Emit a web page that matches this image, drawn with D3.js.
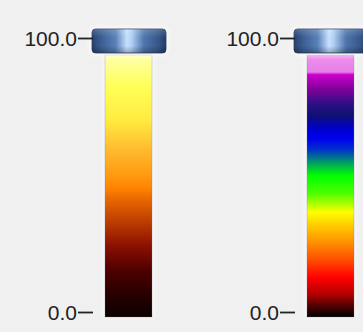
<!DOCTYPE html>
<html>
<head>
<meta charset="utf-8">
<script src="https://cdn.jsdelivr.net/npm/d3@7"></script>
<style>
  html, body { margin: 0; padding: 0; background: #f0f0f0; }
  svg { display: block; }
  .tick text { font-family: "Liberation Sans", Arial, sans-serif; font-size: 21px; fill: #222; }
</style>
</head>
<body>
<script>
// ---- data ----
const domainValues = [0, 100];
const tickValues = [0, 100];
const panelNames = ["hot", "rainbow"];

const hotStops = [0, 8, 18, 27, 37, 45, 49, 54, 64, 75, 88, 96, 100];
const hotColors = ["#0c0000", "#250000", "#500000", "#8a1000", "#c04000", "#e86800",
                   "#ff8200", "#ff9a10", "#ffbb30", "#ffeb40", "#ffff58", "#ffff90", "#ffffb0"];

const rainbowStops = [0, 5, 8.5, 15, 22, 29.5, 35, 40, 43, 47, 54, 58, 61, 64, 68, 72, 77, 81, 87, 92.5, 93.5, 100];
const rainbowColors = ["#000000", "#600000", "#b00000", "#ff0000", "#ff5000", "#ff9a00", "#ffcc00",
                       "#ffff00", "#b0ff00", "#50ff00", "#00ff00", "#00b050", "#007090", "#0030cc",
                       "#0000ee", "#0000cc", "#101072", "#281085", "#800099", "#cc00cc", "#e680e6", "#f090f0"];

const panels = [
  { name: panelNames[0], stops: hotStops, colors: hotColors },
  { name: panelNames[1], stops: rainbowStops, colors: rainbowColors }
];

// ---- layout ----
const W = 363, H = 332;
const panelX = d3.scaleOrdinal().domain(panelNames).range([0, 202]);
const yAxisScale = d3.scaleLinear().domain(domainValues).range([312, 38]);
const yBar = d3.scaleLinear().domain(domainValues).range([317, 55]);
const axisX = 93, barX = 105, barW = 47;

const svg = d3.select("body").append("svg").attr("width", W).attr("height", H);
svg.append("rect").attr("width", W).attr("height", H).attr("fill", "#f0f0f0");
const defs = svg.append("defs");

// cap gradients
const capGrad = defs.append("linearGradient").attr("id", "capH").attr("x1", 0).attr("x2", 1).attr("y1", 0).attr("y2", 0);
[[0, "#27416e"], [0.12, "#3b5d92"], [0.32, "#5a82b8"], [0.47, "#c6e0ff"], [0.53, "#b3d2f5"], [0.7, "#4f76ac"], [0.9, "#36568a"], [1, "#243c68"]]
  .forEach(([o, c]) => capGrad.append("stop").attr("offset", o).attr("stop-color", c));
const capV = defs.append("linearGradient").attr("id", "capV").attr("x1", 0).attr("x2", 0).attr("y1", 0).attr("y2", 1);
[[0, "#ffffff", 0.18], [0.35, "#ffffff", 0.0], [0.7, "#000000", 0.0], [1, "#000000", 0.25]]
  .forEach(([o, c, a]) => capV.append("stop").attr("offset", o).attr("stop-color", c).attr("stop-opacity", a));
const blur = defs.append("filter").attr("id", "glow").attr("x", "-30%").attr("y", "-30%").attr("width", "160%").attr("height", "160%");
blur.append("feGaussianBlur").attr("stdDeviation", 2.5);

panels.forEach((p, i) => {
  const g = svg.append("g").attr("transform", `translate(${panelX(p.name)},0)`);

  const grad = defs.append("linearGradient").attr("id", "grad" + i)
    .attr("gradientUnits", "userSpaceOnUse")
    .attr("x1", 0).attr("x2", 0).attr("y1", yBar(domainValues[0])).attr("y2", yBar(domainValues[1]));
  grad.selectAll("stop").data(p.stops).join("stop")
    .attr("offset", d => (d - domainValues[0]) / (domainValues[1] - domainValues[0]))
    .attr("stop-color", (d, j) => p.colors[j]);

  // soft glow behind bar
  g.append("rect").attr("x", barX - 1.5).attr("y", yBar(100)).attr("width", barW + 3)
    .attr("height", yBar(0) - yBar(100)).attr("fill", "#ffffff").attr("opacity", 0.7).attr("filter", "url(#glow)");

  // colour bar
  g.append("rect").attr("x", barX).attr("y", yBar(100)).attr("width", barW)
    .attr("height", yBar(0) - yBar(100)).attr("fill", `url(#grad${i})`)
    .attr("stroke", "#777").attr("stroke-opacity", 0.35).attr("stroke-width", 0.8);

  // cap
  const capX = barX - 13, capW = barW + 27, capY = yBar(100) - 26, capH = 24;
  g.append("rect").attr("x", capX - 2).attr("y", capY - 2).attr("width", capW + 4).attr("height", capH + 4)
    .attr("rx", 5).attr("fill", "#ffffff").attr("opacity", 0.8).attr("filter", "url(#glow)");
  g.append("rect").attr("x", capX).attr("y", capY).attr("width", capW).attr("height", capH)
    .attr("rx", 3.5).attr("fill", "url(#capH)").attr("stroke", "#2a3e60").attr("stroke-width", 0.8);
  g.append("rect").attr("x", capX).attr("y", capY).attr("width", capW).attr("height", capH)
    .attr("rx", 3.5).attr("fill", "url(#capV)");

  // axis
  const axis = d3.axisLeft(yAxisScale).tickValues(tickValues).tickFormat(d3.format(".1f"))
    .tickSize(15).tickPadding(1);
  const ag = g.append("g").attr("transform", `translate(${axisX},0)`).call(axis);
  ag.select(".domain").remove();
  ag.selectAll(".tick line").attr("stroke", "#222").attr("stroke-width", 1.8);
  ag.selectAll(".tick text").attr("dy", "0.38em").attr("fill", "#222");
});
</script>
</body>
</html>
